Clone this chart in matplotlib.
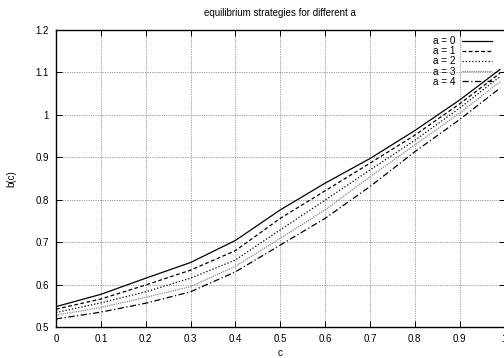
import numpy as np
import matplotlib
matplotlib.use("Agg")
from matplotlib import pyplot as plt

plt.rcParams["font.family"] = ["Liberation Sans", "DejaVu Sans"]

# strategy curves b(c)
c_vals = [0.0, 0.1, 0.2, 0.3, 0.4, 0.5, 0.6, 0.7, 0.8, 0.9, 0.99]
b_a0 = [0.548, 0.577, 0.615, 0.652, 0.704, 0.776, 0.839, 0.897, 0.963, 1.035, 1.107]
b_a1 = [0.542, 0.566, 0.599, 0.634, 0.680, 0.756, 0.821, 0.886, 0.952, 1.026, 1.098]
b_a2 = [0.534, 0.557, 0.583, 0.615, 0.658, 0.729, 0.799, 0.870, 0.940, 1.016, 1.090]
b_a3 = [0.528, 0.546, 0.570, 0.595, 0.643, 0.709, 0.776, 0.854, 0.929, 1.004, 1.078]
b_a4 = [0.519, 0.535, 0.556, 0.583, 0.630, 0.693, 0.756, 0.831, 0.913, 0.989, 1.063]
labels = ["a = 0", "a = 1", "a = 2", "a = 3", "a = 4"]

styles = [
    dict(color="black", linestyle="-"),
    dict(color="black", linestyle=(0, (3, 2))),
    dict(color="black", linestyle=(0, (1, 1.6))),
    dict(color="#8a8a8a", linestyle=(0, (1, 0.8))),
    dict(color="black", linestyle=(0, (5, 2, 1, 2))),
]

fig = plt.figure(figsize=(5.04, 3.58), dpi=100)
ax = fig.add_axes([56 / 504, 31 / 358, 448.5 / 504, 297 / 358])

for series, label, st in zip([b_a0, b_a1, b_a2, b_a3, b_a4], labels, styles):
    ax.plot(c_vals, series, linewidth=0.9, label=label, **st)

ax.set_xlim(0, 1)
ax.set_ylim(0.5, 1.2)
ax.set_xticks(np.arange(0, 1.01, 0.1))
ax.set_xticklabels(["0", "0.1", "0.2", "0.3", "0.4", "0.5", "0.6", "0.7", "0.8", "0.9", "1"])
ax.set_yticks(np.arange(0.5, 1.21, 0.1))
ax.set_yticklabels(["0.5", "0.6", "0.7", "0.8", "0.9", "1", "1.1", "1.2"])
ax.tick_params(direction="in", length=4, width=0.7, top=True, right=True,
               labelsize=7, pad=5)
ax.grid(True, color="black", linestyle=(0, (1, 1.5)), linewidth=0.5, alpha=0.7)
for sp in ax.spines.values():
    sp.set_linewidth(1.0)

ax.set_title("equilibrium strategies for different a", fontsize=7, pad=10)
ax.set_xlabel("c", fontsize=7, labelpad=3)
ax.set_ylabel("b(c)", fontsize=7, labelpad=14)

ax.legend(loc="upper right", bbox_to_anchor=(0.985, 1.0), frameon=False,
          markerfirst=False, fontsize=7.2, handlelength=3.0,
          handletextpad=0.6, labelspacing=0.02, borderaxespad=0.2)

fig.savefig("out.png", dpi=100)
